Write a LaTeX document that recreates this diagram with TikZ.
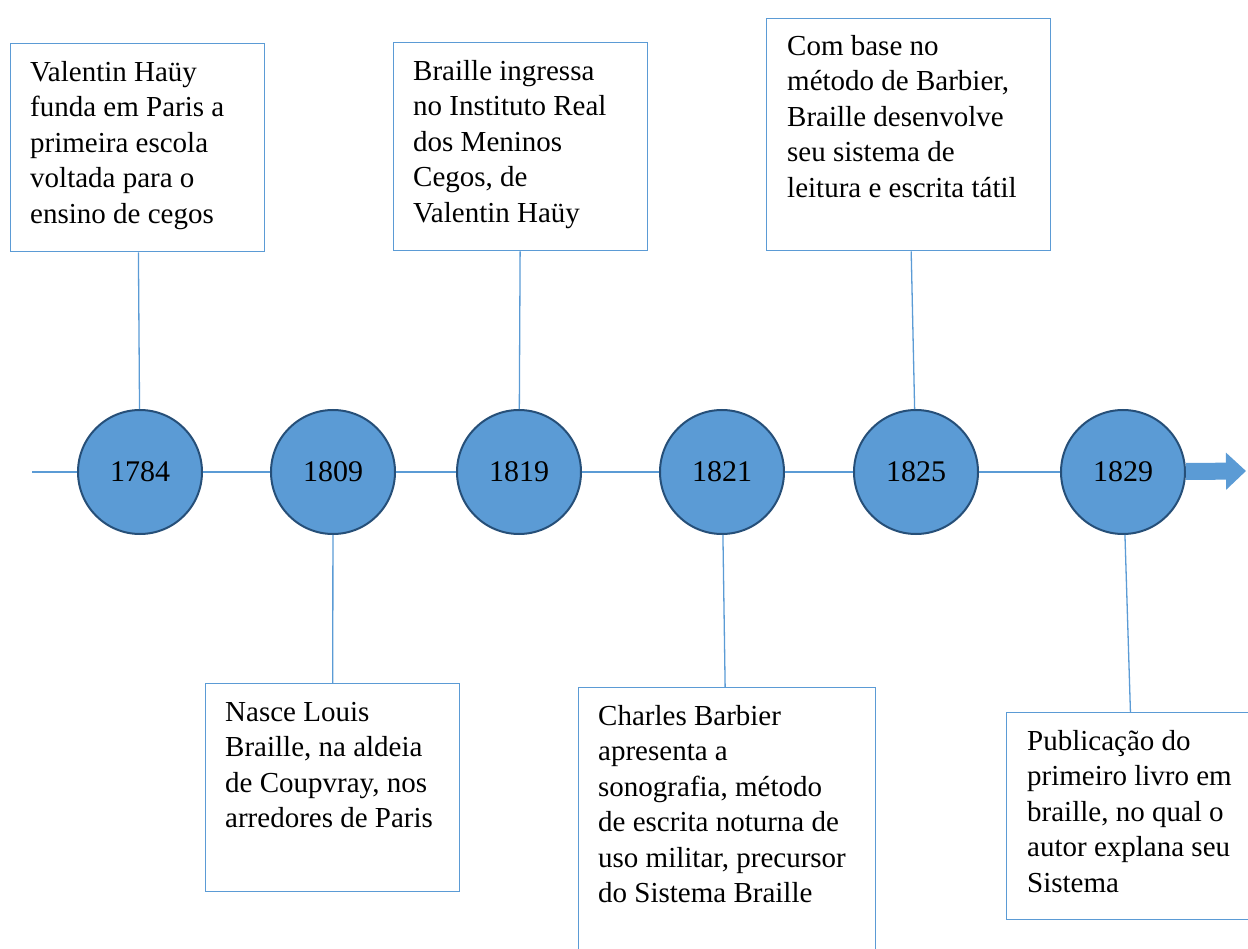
\documentclass[tikz,border=0pt]{standalone}
\usepackage{fontspec}
\setmainfont{Liberation Serif}
\usetikzlibrary{positioning,arrows.meta}
\definecolor{evblue}{HTML}{5B9BD5}
\definecolor{evdark}{HTML}{264F78}
\begin{document}
\begin{tikzpicture}[x=1pt, y=-1pt]
\tikzset{year/.style={circle, draw=evdark, line width=2pt, fill=evblue, minimum size=124pt, inner sep=0pt, font=\fontsize{30}{36}\selectfont},
  evbox/.style={draw=evblue, line width=1.3pt, anchor=north west, inner sep=0pt, minimum width=254pt, minimum height=208pt},
  evtext/.style={align=left, inner sep=0pt, font=\fontsize{29}{35.5}\selectfont},
  tl/.style={draw=evblue, line width=1.3pt}}
\useasboundingbox (0,0) rectangle (1248,949);
% years on the line
\coordinate (tstart) at (32,472);
\node[year] (c1784) at (140,472) {1784};
\node[year] (c1809) at (333,472) {1809};
\node[year] (c1819) at (519,472) {1819};
\node[year] (c1821) at (722,472) {1821};
\node[year] (c1825) at (916,472) {1825};
\node[year] (c1829) at (1123,472) {1829};
\draw[tl] (tstart) edge (c1784) (c1784) edge (c1809) (c1809) edge (c1819)
  (c1819) edge (c1821) (c1821) edge (c1825) (c1825) edge (c1829);
\draw[evblue, line width=17pt, -{Triangle[width=36pt,length=20pt]}] (c1829) -- (1246,471);
% boxes above
\node[evbox] (b1784) at (10,43) {};
\node[evtext, below right=18pt and 20pt of b1784.north west] (t1784) {Valentin Haüy\\funda em Paris a\\primeira escola\\voltada para o\\ensino de cegos};
\node[evbox] (b1819) at (393,42) {};
\node[evtext, below right=18pt and 20pt of b1819.north west] (t1819) {Braille ingressa\\no Instituto Real\\dos Meninos\\Cegos, de\\Valentin Haüy};
\node[evbox, minimum width=284pt, minimum height=232pt] (b1825) at (766,18) {};
\node[evtext, below right=17pt and 21pt of b1825.north west] (t1825) {Com base no\\método de Barbier,\\Braille desenvolve\\seu sistema de\\leitura e escrita tátil};
% boxes below
\node[evbox] (b1809) at (205,683) {};
\node[evtext, below right=19pt and 20pt of b1809.north west] (t1809) {Nasce Louis\\Braille, na aldeia\\de Coupvray, nos\\arredores de Paris};
\node[evbox, minimum width=297pt, minimum height=275pt] (b1821) at (578,687) {};
\node[evtext, below right=18pt and 20pt of b1821.north west] (t1821) {Charles Barbier\\apresenta a\\sonografia, método\\de escrita noturna de\\uso militar, precursor\\do Sistema Braille};
\node[evbox, minimum height=207pt] (b1829) at (1006,712) {};
\node[evtext, below right=18pt and 21pt of b1829.north west] (t1829) {Publicação do\\primeiro livro em\\braille, no qual o\\autor explana seu\\Sistema};
% links
\draw[tl] (b1784) edge (c1784) (b1819) edge (c1819) (b1825) edge (c1825)
  (c1809) edge (b1809) (c1821) edge (b1821) (c1829) edge (b1829);
\end{tikzpicture}
\end{document}
